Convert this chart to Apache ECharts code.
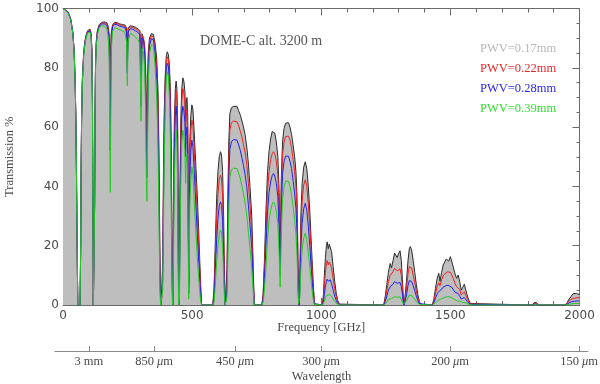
<!DOCTYPE html>
<html>
<head>
<meta charset="utf-8">
<script src="https://cdn.jsdelivr.net/npm/echarts@6/dist/echarts.min.js"></script>
<style>
html,body{margin:0;padding:0;background:#fff;}
#chart{width:600px;height:384px;}
</style>
</head>
<body>
<div id="chart"></div>
<script>
// Frequency grid (GHz), grouped by atmospheric window
const freqGHz = [
  0,10,20,30,38,43,47,50,52,54,56,57.5,62,
  66,68.5,70,72,75,80,85,90,95,100,105,109,112,114,116,117.5,
  120.5,122.5,124,126,129,133,140,150,160,170,175,179,181.5,183,184.5,187,
  192,200,210,220,230,240,246,249,252,260,270,280,290,298,302,306,312,316,320,323,325,327,330,335,342,350,357,363,368,372,375,378,381,
  383,386,389,392,396,400,404,408,412,416,419,421.5,423.5,425,
  426,428,431,435,438,441,444,446,447.5,449,
  451,453,456,460,464,468,472,475,477,480,483,485.5,487,488.5,
  491,495,499,503,507,511,515,520,525,530,534,537,
  580,585,590,595,600,605,610,614,618,622,625,628,
  632,635,638,642,646,652,660,667,674,680,687,693,699,705,712,718,724,731,735,738,741,
  770,775,780,786,792,798,804,810,815,820,826,832,837,841,845,850,856,862,867,873,879,885,891,897,902,906,909,912,915,917,921,926,932,938,944,950,956,962,968,973,976,
  1004,1008,1012,1016,1020,1023,1027,1031,1035,1040,1046,1052,1058,1064,1070,1075,
  1242,1248,1254,1260,1267,1272,1278,1284,1289,1294,1300,1305,1310,1314,1318,1321,1325,1330,1336,1341,1345,1350,1356,1362,1368,1374,1380,1386,
  1430,1436,1442,1449,1455,1460,1466,1472,1478,1484,1489,1494,1500,1506,1512,1518,1524,1530,1536,1542,1548,1554,1560,1566,1572,1578,1585,
  1818,1824,1829,1834,1840,
  1945,1952,1960,1968,1975,1982,1988,1994,2000
];
// Transmission (%) for PWV = 0.17 mm
const pwv017 = [
  100,99.5,98.8,96.5,92,86,76,62,46,28,10,0,0,
  0,20,45,63,76,85,89,91.2,92.5,93,93,91.5,86,70,35,0,
  0,35,65,82,89,92.5,94.5,95.3,95.5,95.2,94,91,85,80,86,92,
  94.5,95.3,95.2,94.8,94.6,94.4,93.5,82,93.5,94.2,94,93.7,93.2,92.5,72,91.5,91,88,80,68,62,72,85,90,91.5,91.3,88,83,72,50,20,2,0,
  0,15,45,65,78,84,85.4,84.5,81,72,55,30,8,0,
  5,35,62,73,75.5,73,62,35,5,0,
  10,40,62,73,76.6,75.5,72,62,68,70,64,30,8,30,
  55,64,67.5,66,60,53,46,37,26,14,5,0,
  0,6,22,36,45,50,51.7,50.5,45,30,12,0,
  0,12,35,55,64.5,66.5,67,67.5,67,65.5,64,62,60,57.5,53,47.5,40,29.8,18,8,0,
  0,4,15,32,45,52,56,58.5,59,58,55,50,38,18,42,55,59.5,61.3,61.8,61.5,60,57.5,54,50,45,37,22,3,0,10,30,41,46.5,48.3,46,40,31,20,9,1.5,0,
  0,3,10,16,20,21.3,19,20.5,21,18,13,8,4,1.5,0.3,0,
  0,3,7,11,14,12.5,15,17.5,18,16,17.5,18.3,15,9,2,0,0.5,8,15,19,19.7,18.5,15,11,7,3.5,1.2,0,
  0,2,5.5,9,10.7,8,11,13.5,14.5,15.5,15.7,14.8,16.3,14.5,12.5,10.5,9,10.1,8,5,6,7,5,3,1.5,0.5,0,
  0,0.8,1.2,0.8,0,
  0,0.8,2,3,3.8,3.5,3.9,3.7,3.5
];
// Transmission (%) for PWV = 0.22 mm
const pwv022 = [
  100,99.5,98.7,96.4,92,86,76,62,46,28,10,0,0,
  0,20,44.8,62.8,75.8,84.8,88.8,91,92.3,92.8,92.7,91.2,85.5,69,34,0,
  0,34.5,64.5,81.5,88.7,92.2,94.3,95.1,95.2,94.8,93.5,89.5,78,66,80,91,
  94.2,95,94.9,94.5,94.3,94,93,80,93,93.8,93.6,93.2,92.7,92,70,91,90.3,87,77,60,52,66,83,89,90.8,90.5,86.5,80,67,43,15,1,0,
  0,12,40,61,75.5,82.5,83.7,82.8,78.5,68,50,25,6,0,
  3,30,57,69,72,69,57,29,3,0,
  7,35,57,69,73,71.5,67.5,57,63.5,66,59,25,6,25,
  50,59,62.4,60.5,54.5,47,40,31,21,11,3.5,0,
  0,4,17,29.5,37.5,42.5,43.8,42.5,37,23,8,0,
  0,8,29,49,59,61.5,62,62.4,61.8,60.5,58.5,56.5,54,51.5,47,41,34,24.5,14.5,6,0,
  0,3,12,26,38.5,45,49,51,51.7,51,48.5,44,32,14,37,50.5,55,56.8,57.3,57,55.5,53,49,45,40,32,18,2,0,7.5,25,35,40.5,42.2,40,34,26,16,7,1,0,
  0,2,6.5,11,14,15,13.5,14.5,14.8,12.5,9,5.5,2.8,1,0.2,0,
  0,2,5,8,10,9.5,11.2,12.4,12.4,11.5,12,12.2,10,6,1.5,0,0.3,5.5,10.5,12.9,12.9,12.5,10,7.5,4.8,2.4,0.8,0,
  0,1.4,3.8,6.2,7.5,6.5,8.5,9.8,10.5,11,11.2,11,11,10,8.7,7.3,6.2,6.5,5.2,3.4,4,4.4,3.2,2,1,0.3,0,
  0,0.4,0.6,0.4,0,
  0,0.5,1.3,2,2.5,2.3,2.6,2.5,2.4
];
// Transmission (%) for PWV = 0.28 mm
const pwv028 = [
  100,99.5,98.6,96.3,91.8,85.8,75.8,61.8,45.8,27.8,9.9,0,0,
  0,19.8,44.6,62.5,75.5,84.5,88.5,90.7,92.1,92.5,92.4,90.8,85,68,33,0,
  0,34,64,81,88.3,91.8,94,94.8,94.8,94.2,92.5,87.5,68,52,70,89.5,
  93.8,94.6,94.5,94,93.8,93.5,92,78,92,93.2,93,92.5,92,91,67,90,89,85,72,52,43,58,80,87.5,89.8,89.5,84.5,76,61,36,10,0.5,0,
  0,8,34,56,72.5,80,81.5,80.5,75.5,63,43,20,4,0,
  2,25,51,64,67,63.5,50,22,2,0,
  5,28,50,63.5,67,65.5,61.5,50,57,60,52,20,4,19,
  43,52,55.6,53.5,47,40,33,24,15.5,7.5,2,0,
  0,2.5,12,22,29,33.5,34.8,33.5,28.5,16,5,0,
  0,5,22,42,52.5,55,55.8,56.2,55.6,54,52,49.5,47,44,39.5,33.5,27,19,11,4.5,0,
  0,2,9,20,31.5,38,41.5,43.7,44.4,43.5,41,36.5,25,10,31,44,48.5,50.2,50.6,50.2,48.5,46,42,37.5,32.5,25,13,1,0,5,19,27.5,32.5,34.3,32,26.5,19.5,11.5,4.5,0.5,0,
  0,1,3.5,6.2,8,8.7,8,8.5,8.5,7.2,5,3,1.5,0.5,0.1,0,
  0,1.2,3,5,6.2,6,7,7.9,7.9,7.3,7.5,7.6,6.2,3.8,0.8,0,0.2,3.4,6.5,8.2,8.4,8,6.5,4.8,3,1.5,0.5,0,
  0,0.8,2.2,3.8,4.5,4.2,5.3,6,6.3,6.6,6.7,6.6,6.5,5.9,5.1,4.3,3.7,3.9,3,2,2.3,2.5,1.8,1.1,0.5,0.2,0,
  0,0.2,0.3,0.2,0,
  0,0.3,0.7,1.1,1.4,1.3,1.5,1.4,1.3
];
// Transmission (%) for PWV = 0.39 mm
const pwv039 = [
  100,99.4,98.4,96.1,91.6,85.6,75.6,61.6,45.6,27.6,9.8,0,0,
  0,19.6,44.3,62.1,75,84,88,90.2,91.8,92.1,92,90.2,84,66,31,0,
  0,33,63,80,87.5,91,93.5,94.2,94,93,90.5,83,55,38,58,86,
  92.5,93.5,93.2,92.8,92.5,92,89,74,89,91.5,91.2,90.5,89.5,88,62,86.5,85,80,65,42,35,50,75,85,87.8,87.5,80,70,52,27,6,0,0,
  0,5,26,48,68,76.5,78.7,77,70,55,34,13,2,0,
  1,18,42,55,59,55,40,14,1,0,
  2,20,41,55,59,57,52,41,48,51,43,13,2,12,
  34,42,46.6,44,37.5,30,24,16,9.5,4,1,0,
  0,1,7,14.5,20,24,25.3,24,19.5,10,3,0,
  0,2.5,14,32,43,45.5,46.2,46.6,46,44.5,42.5,40,37.5,34.5,30,24.5,19,12.5,7,2.5,0,
  0,1,5,13,22.5,28.5,32,34,34.8,34,31.5,27.5,17,6,23.5,35.5,40,41.8,42.2,41.7,40,37,33,28.5,24,17.5,8,0.5,0,2.5,12,18.5,22.7,24.2,22,17.5,12.5,7,2.5,0.2,0,
  0,0.3,1.2,2.5,3.2,3.6,3.3,3.5,3.5,2.9,2,1.2,0.6,0.2,0,0,
  0,0.4,1,1.8,2.2,2.2,2.6,2.8,2.8,2.6,2.7,2.7,2.2,1.3,0.3,0,0.1,1.3,2.5,3.3,3.4,3.2,2.6,1.9,1.2,0.6,0.2,0,
  0,0.3,0.8,1.4,1.7,1.6,2.1,2.4,2.6,2.7,2.8,2.7,2.7,2.4,2.1,1.8,1.5,1.5,1.2,0.8,0.9,1,0.7,0.4,0.2,0.1,0,
  0,0.05,0.1,0.05,0,
  0,0.1,0.2,0.4,0.5,0.5,0.6,0.5,0.5
];
const seriesNames = ['PWV=0.17mm', 'PWV=0.22mm', 'PWV=0.28mm', 'PWV=0.39mm'];
const wavelengthUm = [3000, 850, 450, 300, 200, 150];
const wavelengthLabels = ['3 mm', '850 {i|μ}m', '450 {i|μ}m', '300 {i|μ}m', '200 {i|μ}m', '150 {i|μ}m'];
const freqTickInterval = 500;
const transTickInterval = 20;

const wavelengthGHz = wavelengthUm.map(u => 299792.458 / u);
const pair = arr => freqGHz.map((f, i) => [f, arr[i]]);

const serif = 'Liberation Serif';
const sans = 'DejaVu Sans';
const axisCol = '#6a6a6a';
const txtCol = '#4a4a4a';

const chart = echarts.init(document.getElementById('chart'), null, {renderer: 'canvas'});
chart.setOption({
  animation: false,
  backgroundColor: '#fff',
  title: {
    text: 'DOME-C alt. 3200 m',
    left: 195, top: 29,
    textStyle: {fontFamily: serif, fontWeight: 'normal', fontSize: 14, color: '#555'}
  },
  legend: {
    orient: 'vertical', left: 470, top: 37, itemGap: 7,
    itemWidth: 0, itemHeight: 0, icon: 'rect',
    selectedMode: false,
    textStyle: {fontFamily: serif, fontSize: 12.5},
    data: [
      {name: seriesNames[0], textStyle: {color: '#b8b8b8'}},
      {name: seriesNames[1], textStyle: {color: '#e82a2a'}},
      {name: seriesNames[2], textStyle: {color: '#2a2ae8'}},
      {name: seriesNames[3], textStyle: {color: '#33dd33'}}
    ]
  },
  grid: [
    {left: 63, right: 20.5, top: 8.5, bottom: 79, outerBoundsMode: 'none', containLabel: false},
    {left: 55, right: 12, top: 350, height: 1, outerBoundsMode: 'none', containLabel: false}
  ],
  xAxis: [
    {
      gridIndex: 0, type: 'value', min: 0, max: 2000, interval: freqTickInterval, position: 'bottom',
      axisLine: {show: true, onZero: false, lineStyle: {color: axisCol, width: 1}},
      axisTick: {inside: true, length: 7, lineStyle: {color: axisCol}},
      minorTick: {show: true, splitNumber: 5, length: 4, lineStyle: {color: axisCol}},
      splitLine: {show: false},
      axisLabel: {margin: 5, fontFamily: sans, fontSize: 12, color: txtCol, formatter: v => String(v)},
      name: 'Frequency [GHz]', nameLocation: 'middle', nameGap: 16, nameMoveOverlap: false,
      nameTextStyle: {fontFamily: serif, fontSize: 12.5, color: txtCol}
    },
    {
      gridIndex: 0, type: 'value', min: 0, max: 2000, interval: freqTickInterval, position: 'top',
      axisLine: {show: true, onZero: false, lineStyle: {color: axisCol, width: 1}},
      axisTick: {inside: true, length: 7, lineStyle: {color: axisCol}},
      minorTick: {show: true, splitNumber: 5, length: 4, lineStyle: {color: axisCol}},
      splitLine: {show: false}, axisLabel: {show: false}
    },
    {
      gridIndex: 1, type: 'value', min: -31, max: 2033, position: 'bottom',
      axisLine: {show: true, onZero: false, lineStyle: {color: '#8a8a8a', width: 1}},
      axisTick: {show: true, inside: true, length: 5, customValues: wavelengthGHz, lineStyle: {color: '#8a8a8a'}},
      splitLine: {show: false},
      axisLabel: {
        margin: 4, customValues: wavelengthGHz, fontFamily: serif, fontSize: 12.5, color: txtCol,
        formatter: v => {
          let best = 0;
          wavelengthGHz.forEach((g, i) => { if (Math.abs(g - v) < Math.abs(wavelengthGHz[best] - v)) best = i; });
          return wavelengthLabels[best];
        },
        rich: {i: {fontFamily: serif, fontStyle: 'italic', fontSize: 12.5, color: txtCol}}
      },
      name: 'Wavelength', nameLocation: 'middle', nameGap: 19, nameMoveOverlap: false,
      nameTextStyle: {fontFamily: serif, fontSize: 12.5, color: txtCol}
    }
  ],
  yAxis: [
    {
      gridIndex: 0, type: 'value', min: 0, max: 100, interval: transTickInterval, position: 'left',
      axisLine: {show: true, onZero: false, lineStyle: {color: axisCol, width: 1}},
      axisTick: {inside: true, length: 7, lineStyle: {color: axisCol}},
      minorTick: {show: true, splitNumber: 4, length: 3, lineStyle: {color: axisCol}},
      splitLine: {show: false},
      axisLabel: {margin: 4, fontFamily: sans, fontSize: 12, color: txtCol},
      name: 'Transmission %', nameLocation: 'middle', nameGap: 47, nameRotate: 90, nameMoveOverlap: false,
      nameTextStyle: {fontFamily: serif, fontSize: 12.5, color: txtCol}
    },
    {
      gridIndex: 0, type: 'value', min: 0, max: 100, interval: transTickInterval, position: 'right',
      axisLine: {show: true, onZero: false, lineStyle: {color: axisCol, width: 1}},
      axisTick: {inside: true, length: 7, lineStyle: {color: axisCol}},
      minorTick: {show: true, splitNumber: 4, length: 3, lineStyle: {color: axisCol}},
      splitLine: {show: false}, axisLabel: {show: false}
    },
    {gridIndex: 1, type: 'value', show: false, min: 0, max: 1}
  ],
  series: [
    {
      name: seriesNames[0], type: 'line', xAxisIndex: 0, yAxisIndex: 0, data: pair(pwv017),
      symbol: 'none', sampling: false, color: '#bebebe',
      lineStyle: {color: '#2b2b2b', width: 1},
      areaStyle: {color: '#bebebe', opacity: 1}, z: 2
    },
    {
      name: seriesNames[1], type: 'line', xAxisIndex: 0, yAxisIndex: 0, data: pair(pwv022),
      symbol: 'none', color: '#ee2222', lineStyle: {color: '#ee2222', width: 1}, z: 3
    },
    {
      name: seriesNames[2], type: 'line', xAxisIndex: 0, yAxisIndex: 0, data: pair(pwv028),
      symbol: 'none', color: '#2222ee', lineStyle: {color: '#2222ee', width: 1}, z: 4
    },
    {
      name: seriesNames[3], type: 'line', xAxisIndex: 0, yAxisIndex: 0, data: pair(pwv039),
      symbol: 'none', color: '#22cc22', lineStyle: {color: '#22cc22', width: 1}, z: 5
    }
  ]
});
</script>
</body>
</html>
